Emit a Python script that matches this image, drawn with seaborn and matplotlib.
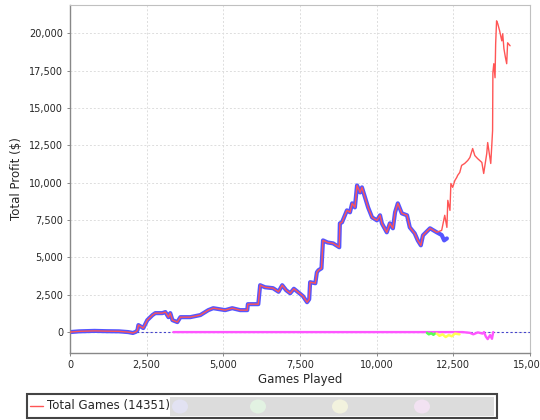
import matplotlib
matplotlib.use("Agg")
import matplotlib.pyplot as plt
import matplotlib.patches as mpatches
from matplotlib.ticker import FuncFormatter, MultipleLocator
from matplotlib.lines import Line2D
import seaborn as sns

# Total Games series (red)
total_x = [0, 300, 800, 1200, 1600, 1900, 2050, 2150, 2200, 2230, 2390, 2520, 2690,
           2780, 3010, 3110, 3210, 3270, 3340, 3500, 3600, 3920, 4250, 4510, 4670,
           5060, 5290, 5550, 5780, 5800, 6140, 6200, 6360, 6620, 6800, 6920, 7050,
           7180, 7300, 7440, 7600, 7730, 7800, 7830, 8000, 8050, 8100, 8200, 8250,
           8400, 8580, 8780, 8800, 8870, 9030, 9130, 9200, 9290, 9360, 9460, 9520,
           9620, 9720, 9850, 10010, 10110, 10170, 10330, 10430, 10530, 10600, 10690,
           10820, 10990, 11080, 11240, 11340, 11440, 11510, 11740, 11960, 12120,
           12220, 12290, 12320, 12390, 12420, 12480, 12550, 12610, 12640, 12710,
           12770, 12870, 12970, 13040, 13130, 13200, 13290, 13430, 13490, 13590,
           13620, 13720, 13750, 13780, 13790, 13820, 13860, 13880, 13910, 13950,
           14010, 14080, 14110, 14150, 14200, 14240, 14270, 14351]
total_y = [0, 50, 80, 60, 50, 0, -60, 20, 130, 470, 270, 800, 1140,
           1270, 1270, 1340, 1000, 1270, 800, 670, 1000, 1000, 1140, 1470, 1600,
           1470, 1600, 1470, 1470, 1870, 1870, 3140, 3000, 2940, 2700, 3140, 2800,
           2600, 2900, 2670, 2400, 2000, 2200, 3340, 3270, 4000, 4140, 4270, 6140,
           6000, 5940, 5680, 7280, 7350, 8150, 8020, 8620, 8350, 9820, 9350, 9690,
           9020, 8350, 7680, 7480, 7820, 7280, 6680, 7280, 6950, 8020, 8620,
           7950, 7820, 7010, 6610, 6140, 5810, 6480, 6950, 6680, 6810,
           7820, 7010, 8820, 8150, 9950, 9690, 10150, 10350, 10490, 10690,
           11160, 11290, 11490, 11690, 12290, 11820, 11620, 11360, 10620, 11960,
           12690, 11290, 12360, 13490, 17370, 17970, 17030, 19300, 20840, 20640,
           20170, 19500, 19970, 18970, 18370, 17970, 19370, 19170]

# blue series: follows the total until ~12,000 then drifts down
blue_tail_x = [12120, 12200, 12290]
blue_tail_y = [6500, 6140, 6270]

# small series near zero
magenta_x = [3370, 10000, 12800, 13040, 13150, 13300, 13450, 13500, 13560, 13620, 13700, 13760, 13800]
magenta_y = [0, 0, 0, -50, -150, -20, -100, 0, -300, -470, -200, -450, 0]
green_x = [11640, 11700, 11780, 11850, 11900]
green_y = [-50, -150, -80, -180, -100]
yellow_x = [11960, 12050, 12150, 12250, 12350, 12450, 12550, 12700]
yellow_y = [-100, -250, -150, -330, -200, -280, -100, -150]

n_blue = sum(1 for v in total_x if v <= 11960)
blue_x = total_x[:n_blue] + blue_tail_x
blue_y = total_y[:n_blue] + blue_tail_y

sns.set_style("white")
plt.rcParams['font.family'] = ['DejaVu Sans']

fig = plt.figure(figsize=(5.4, 4.2), dpi=100)
ax = fig.add_axes([70 / 540, 1 - 353 / 420, 460 / 540, 348 / 420])

ax.axhline(0, color='#4444cc', lw=0.8, ls=(0, (2, 2)), zorder=1)

sns.lineplot(x=blue_x, y=blue_y, color='#5555FF', lw=3, sort=False, estimator=None, ax=ax, zorder=2)
sns.lineplot(x=magenta_x, y=magenta_y, color='#FF55FF', lw=1.7, sort=False, estimator=None, ax=ax, zorder=2)
sns.lineplot(x=green_x, y=green_y, color='#55FF55', lw=1.8, sort=False, estimator=None, ax=ax, zorder=2)
sns.lineplot(x=yellow_x, y=yellow_y, color='#FFFF55', lw=1.8, sort=False, estimator=None, ax=ax, zorder=2)
sns.lineplot(x=total_x, y=total_y, color='#FF5555', lw=1.0, sort=False, estimator=None, ax=ax, zorder=3)

ax.set_xlim(0, 15000)
ax.set_ylim(-1400, 21900)
ax.xaxis.set_major_locator(MultipleLocator(2500))
ax.yaxis.set_major_locator(MultipleLocator(2500))
fmt = FuncFormatter(lambda v, p: f"{int(v):,}")
ax.xaxis.set_major_formatter(fmt)
ax.yaxis.set_major_formatter(fmt)

ax.grid(True, color='#dddddd', ls=(0, (2, 2)), lw=0.7)
ax.set_axisbelow(True)
for side in ['top', 'right']:
    ax.spines[side].set_color('#c0c0c0')
    ax.spines[side].set_linewidth(0.8)
for side in ['left', 'bottom']:
    ax.spines[side].set_color('#888888')
    ax.spines[side].set_linewidth(1.0)
ax.tick_params(axis='both', labelsize=7, length=2, width=0.7, color='#888888', pad=3, left=True, bottom=True)

ax.set_xlabel('Games Played', fontsize=8.5, labelpad=2)
ax.set_ylabel('Total Profit ($)', fontsize=8.5, labelpad=4)

# legend box
box = mpatches.Rectangle((27 / 540, 1 - 418 / 420), 470 / 540, 24 / 420, transform=fig.transFigure,
                         facecolor='white', edgecolor='#444444', lw=1.5)
fig.patches.append(box)
blur = mpatches.Rectangle((170 / 540, 1 - 416 / 420), 324 / 540, 19 / 420, transform=fig.transFigure,
                          facecolor='#dcdcdc', edgecolor='none')
fig.patches.append(blur)
for cx, col in [(180, '#e2e2f2'), (258, '#e2f2e2'), (340, '#f2f2de'), (422, '#f2e2f2')]:
    fig.patches.append(mpatches.Ellipse((cx / 540, 1 - 406.5 / 420), 16 / 540, 14 / 420,
                                        transform=fig.transFigure, facecolor=col, edgecolor='none'))
fig.lines.append(Line2D([30 / 540, 43 / 540], [1 - 406 / 420] * 2, transform=fig.transFigure,
                        color='#FF5555', lw=1.0))
fig.text(47 / 540, 1 - 406 / 420, 'Total Games (14351)', fontsize=8.5, va='center', ha='left')

fig.savefig('out.png', dpi=100)
